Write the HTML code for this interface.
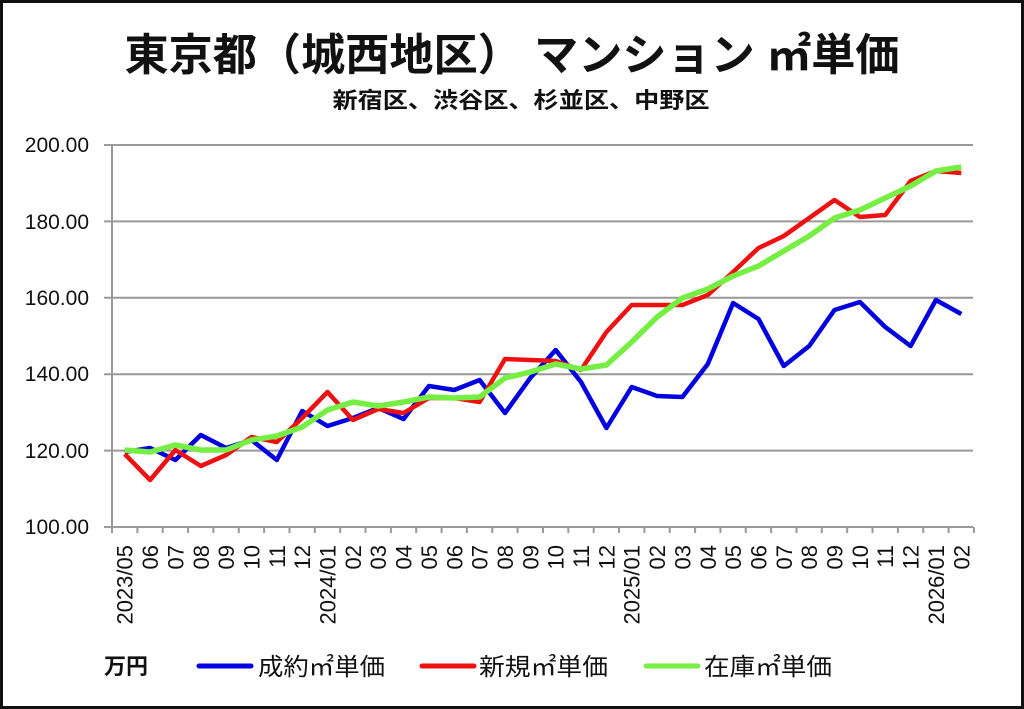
<!DOCTYPE html>
<html><head><meta charset="utf-8"><style>
html,body{margin:0;padding:0;background:#fff}
svg{display:block}
text{font-family:"Liberation Sans","Noto Sans CJK JP",sans-serif;fill:#111}
</style></head><body>
<svg width="1024" height="709" viewBox="0 0 1024 709" xmlns="http://www.w3.org/2000/svg">
<rect x="1.5" y="1.5" width="1021" height="706" fill="#fff" stroke="#111" stroke-width="3"/>
<text x="512" y="70" text-anchor="middle" font-size="44" font-weight="bold" textLength="775" lengthAdjust="spacingAndGlyphs">東京都（城西地区） マンション ㎡単価</text>
<text x="521" y="108" text-anchor="middle" font-size="22" font-weight="bold" textLength="377" lengthAdjust="spacingAndGlyphs">新宿区、渋谷区、杉並区、中野区</text>
<g stroke="#999" stroke-width="2" fill="none">
<path d="M104 145H973M104 221.4H973M104 297.8H973M104 374.2H973M104 450.6H973M104 527H973"/>
<path d="M112 145V533"/>
<path d="M112 527v6M137.4 527v6M162.7 527v6M188.1 527v6M213.4 527v6M238.8 527v6M264.1 527v6M289.5 527v6M314.8 527v6M340.2 527v6M365.5 527v6M390.9 527v6M416.2 527v6M441.6 527v6M466.9 527v6M492.3 527v6M517.6 527v6M543 527v6M568.3 527v6M593.7 527v6M619 527v6M644.4 527v6M669.7 527v6M695.1 527v6M720.4 527v6M745.8 527v6M771.1 527v6M796.5 527v6M821.8 527v6M847.2 527v6M872.5 527v6M897.9 527v6M923.2 527v6M948.6 527v6M973.9 527v6"/>
</g>
<g font-size="21" text-anchor="end">
<text x="89" y="152">200.00</text><text x="89" y="229">180.00</text><text x="89" y="305">160.00</text>
<text x="89" y="381">140.00</text><text x="89" y="458">120.00</text><text x="89" y="534">100.00</text>
</g>
<g font-size="22" text-anchor="end">
<text transform="translate(132.7,545) rotate(-90)">2023/05</text>
<text transform="translate(158.1,545) rotate(-90)">06</text>
<text transform="translate(183.4,545) rotate(-90)">07</text>
<text transform="translate(208.8,545) rotate(-90)">08</text>
<text transform="translate(234.1,545) rotate(-90)">09</text>
<text transform="translate(259.5,545) rotate(-90)">10</text>
<text transform="translate(284.8,545) rotate(-90)">11</text>
<text transform="translate(310.2,545) rotate(-90)">12</text>
<text transform="translate(335.5,545) rotate(-90)">2024/01</text>
<text transform="translate(360.9,545) rotate(-90)">02</text>
<text transform="translate(386.2,545) rotate(-90)">03</text>
<text transform="translate(411.6,545) rotate(-90)">04</text>
<text transform="translate(436.9,545) rotate(-90)">05</text>
<text transform="translate(462.3,545) rotate(-90)">06</text>
<text transform="translate(487.6,545) rotate(-90)">07</text>
<text transform="translate(513,545) rotate(-90)">08</text>
<text transform="translate(538.3,545) rotate(-90)">09</text>
<text transform="translate(563.7,545) rotate(-90)">10</text>
<text transform="translate(589,545) rotate(-90)">11</text>
<text transform="translate(614.4,545) rotate(-90)">12</text>
<text transform="translate(639.7,545) rotate(-90)">2025/01</text>
<text transform="translate(665.1,545) rotate(-90)">02</text>
<text transform="translate(690.4,545) rotate(-90)">03</text>
<text transform="translate(715.8,545) rotate(-90)">04</text>
<text transform="translate(741.1,545) rotate(-90)">05</text>
<text transform="translate(766.5,545) rotate(-90)">06</text>
<text transform="translate(791.8,545) rotate(-90)">07</text>
<text transform="translate(817.2,545) rotate(-90)">08</text>
<text transform="translate(842.5,545) rotate(-90)">09</text>
<text transform="translate(867.9,545) rotate(-90)">10</text>
<text transform="translate(893.2,545) rotate(-90)">11</text>
<text transform="translate(918.6,545) rotate(-90)">12</text>
<text transform="translate(943.9,545) rotate(-90)">2026/01</text>
<text transform="translate(969.3,545) rotate(-90)">02</text>
</g>
<g fill="none" stroke-linejoin="round" stroke-linecap="butt">
<polyline stroke="#0000e0" stroke-width="4.5" points="124.7,452 150.1,448 175.4,460 200.8,435 226.1,448 251.5,440 276.8,460 302.2,411 327.5,426 352.9,418 378.2,408 403.6,419 428.9,386 454.3,390 479.6,380 505,413 530.3,378 555.7,350 581,382 606.4,428 631.7,387 657.1,396 682.4,397 707.8,364 733.1,303 758.5,319 783.8,366 809.2,346 834.5,310 859.9,302 885.2,327 910.6,346 935.9,300 961.3,314"/>
<polyline stroke="#ee1111" stroke-width="4.5" points="124.7,454 150.1,480 175.4,450 200.8,466 226.1,455 251.5,437 276.8,442 302.2,418 327.5,392 352.9,420 378.2,409 403.6,413 428.9,398 454.3,398 479.6,402 505,359 530.3,360 555.7,361 581,370 606.4,332 631.7,305 657.1,305 682.4,305 707.8,295 733.1,272 758.5,248 783.8,236 809.2,218 834.5,200 859.9,217 885.2,215 910.6,181 935.9,171 961.3,173"/>
<polyline stroke="#77ee44" stroke-width="5.5" points="124.7,450 150.1,452 175.4,445 200.8,450 226.1,450 251.5,440 276.8,436 302.2,427 327.5,410 352.9,402 378.2,406 403.6,402 428.9,397 454.3,398 479.6,397 505,378 530.3,372 555.7,364 581,369 606.4,365 631.7,342 657.1,317 682.4,298 707.8,289 733.1,276 758.5,266 783.8,251 809.2,236 834.5,218 859.9,210 885.2,198 910.6,186 935.9,171 961.3,167"/>
</g>
<text x="104" y="674" font-size="22" font-weight="bold">万円</text>
<line x1="199" y1="666" x2="251" y2="666" stroke="#0000e0" stroke-width="5" stroke-linecap="round"/>
<text x="258" y="675" font-size="24" textLength="127" lengthAdjust="spacingAndGlyphs">成約㎡単価</text>
<line x1="422" y1="666" x2="474" y2="666" stroke="#ee1111" stroke-width="5" stroke-linecap="round"/>
<text x="479" y="675" font-size="24" textLength="129" lengthAdjust="spacingAndGlyphs">新規㎡単価</text>
<line x1="646" y1="666" x2="698" y2="666" stroke="#77ee44" stroke-width="5" stroke-linecap="round"/>
<text x="704" y="675" font-size="24" textLength="128" lengthAdjust="spacingAndGlyphs">在庫㎡単価</text>
</svg>
</body></html>
